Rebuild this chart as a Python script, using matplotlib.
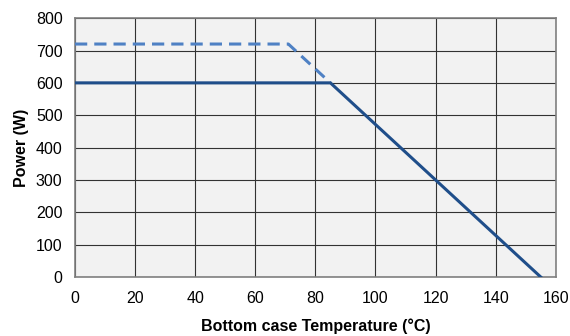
import matplotlib
matplotlib.use('Agg')
import matplotlib.pyplot as plt

plt.rcParams['font.family'] = ['Liberation Sans', 'DejaVu Sans']

# derating curves
solid_temp = [0, 85, 155]
solid_power = [600, 600, 0]
dashed_temp = [0, 71, 85]
dashed_power = [720, 720, 600]

x_ticks = [0, 20, 40, 60, 80, 100, 120, 140, 160]
y_ticks = [0, 100, 200, 300, 400, 500, 600, 700, 800]

fig = plt.figure(figsize=(5.7, 3.36), dpi=100)
ax = fig.add_axes([0.1316, 0.1756, 0.8434, 0.7704])
ax.set_facecolor('#f2f2f2')

ax.plot(dashed_temp, dashed_power, color='#4f81c4', linewidth=2.2,
        linestyle=(0, (4, 2.3)), zorder=3)
ax.plot(solid_temp, solid_power, color='#1f4e8a', linewidth=2.2, zorder=4)

ax.set_xlim(0, 160)
ax.set_ylim(0, 800)
ax.set_xticks(x_ticks)
ax.set_yticks(y_ticks)
ax.grid(color='#333333', linewidth=0.8, zorder=1)
ax.set_axisbelow(True)
ax.tick_params(length=0, labelsize=11.5)
ax.tick_params(axis='x', pad=10)
ax.tick_params(axis='y', pad=9)
for s in ax.spines.values():
    s.set_color('#808080')
    s.set_linewidth(1.2)

ax.set_xlabel('Bottom case Temperature (°C)', fontsize=11.5, fontweight='bold', labelpad=9)
ax.set_ylabel('Power (W)', fontsize=11.5, fontweight='bold', labelpad=5)

fig.savefig('out.png', dpi=100)
